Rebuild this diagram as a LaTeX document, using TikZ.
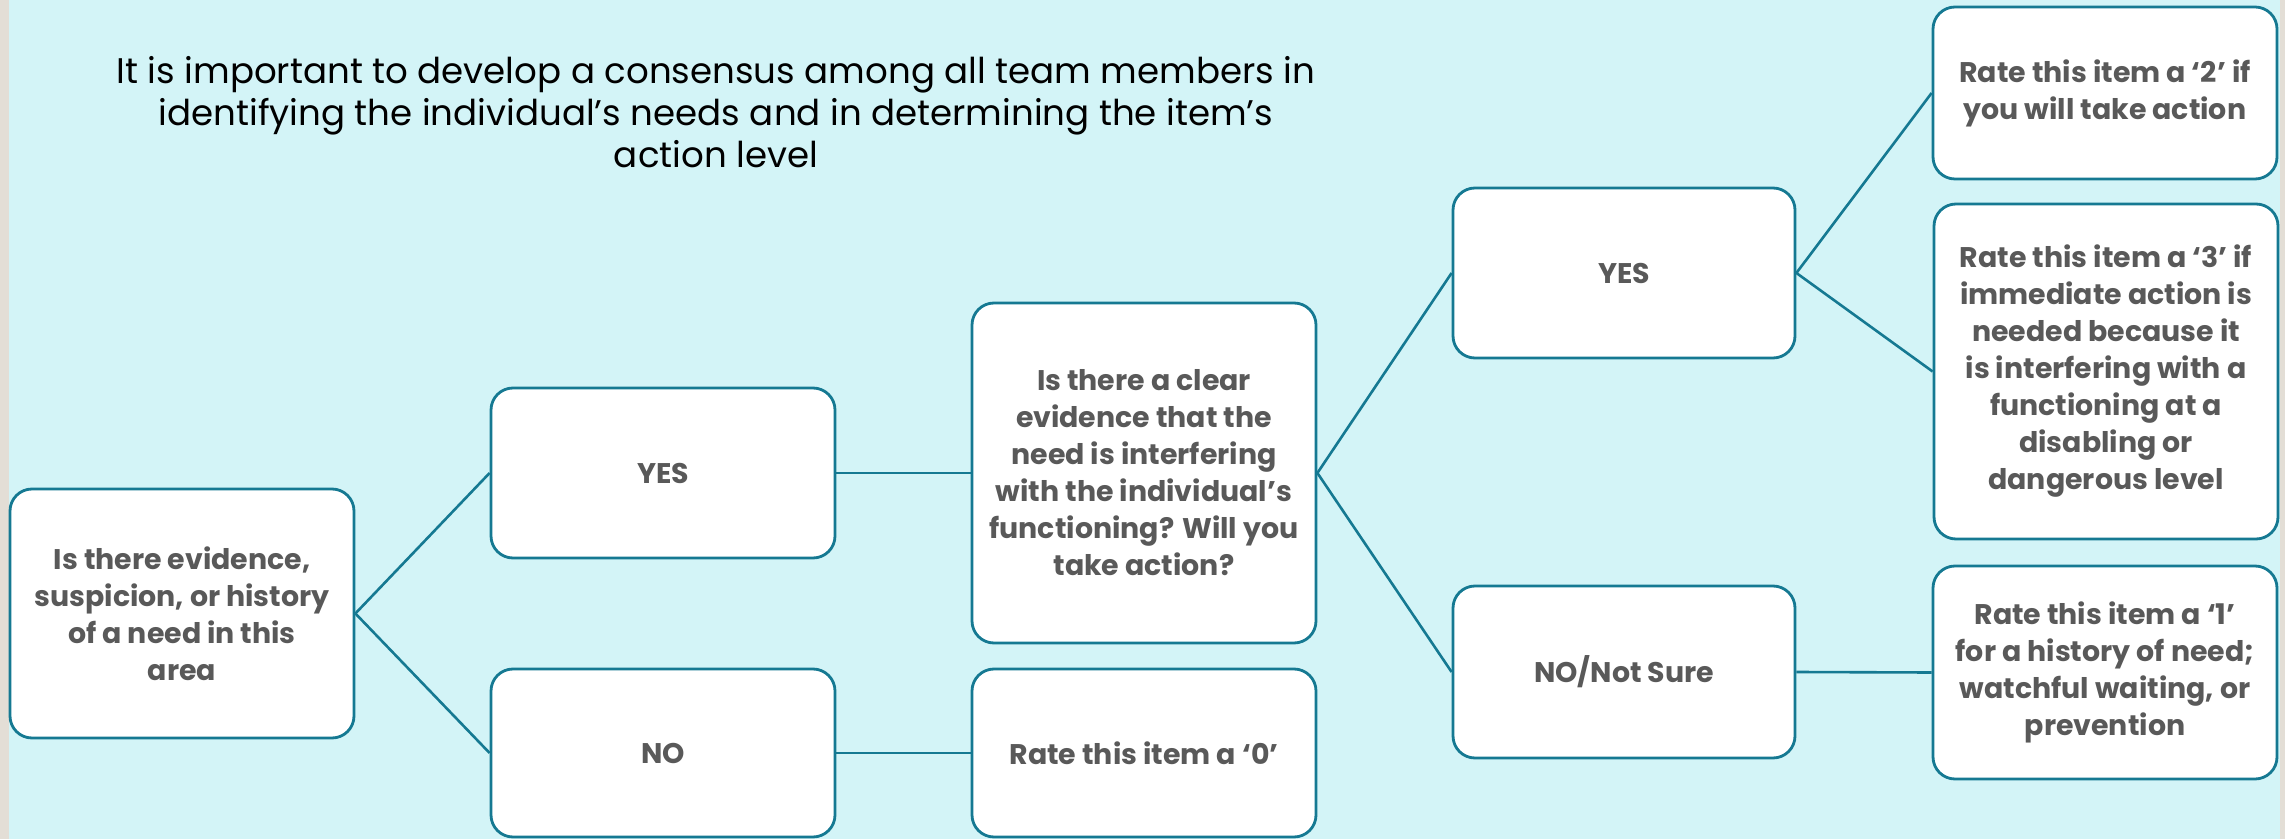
\documentclass[tikz,border=0pt]{standalone}
\usepackage{fontspec}
\setmainfont{Poppins}
\definecolor{bgcol}{RGB}{211,244,247}
\definecolor{stripcol}{RGB}{227,222,214}
\definecolor{edgecol}{RGB}{21,121,146}
\definecolor{txtcol}{RGB}{89,89,89}
\tikzset{
  flowbox/.style={draw=edgecol, line width=1.4pt, fill=white, rounded corners=11pt,
    align=center, text=txtcol, inner sep=2pt,
    font=\fontsize{14.2}{18.5}\selectfont\bfseries},
  link/.style={draw=edgecol, line width=1.3pt},
  introtext/.style={align=center, text=black, font=\fontsize{17.8}{21}\selectfont}
}
\begin{document}
\begin{tikzpicture}[x=0.5pt,y=-0.5pt]
\useasboundingbox (0,0) rectangle (2285,839);
\fill[bgcol] (0,0) rectangle (2285,839);
\fill[stripcol] (0,0) rectangle (9,839);
\fill[stripcol] (2280,0) rectangle (2285,839);

\node[introtext] (intro) at (716,112) {It is important to develop a consensus among all team members in\\ identifying the individual’s needs and in determining the item’s\\ action level};

\node[flowbox, minimum width=172pt, minimum height=124.5pt] (q1) at (182,613.5) {Is there evidence,\\ suspicion, or history\\ of a need in this\\ area};
\node[flowbox, minimum width=172pt, minimum height=85pt] (yes1) at (663,473) {YES};
\node[flowbox, minimum width=172pt, minimum height=84pt] (no1) at (663,753) {NO};
\node[flowbox, minimum width=172pt, minimum height=170pt] (q2) at (1144,473) {Is there a clear\\ evidence that the\\ need is interfering\\ with the individual’s\\ functioning? Will you\\ take action?};
\node[flowbox, minimum width=172pt, minimum height=84pt] (r0) at (1144,753) {Rate this item a ‘0’};
\node[flowbox, minimum width=171pt, minimum height=85pt] (yes2) at (1624,273) {YES};
\node[flowbox, minimum width=171pt, minimum height=86pt] (nons) at (1624,672) {NO/Not Sure};
\node[flowbox, minimum width=172pt, minimum height=86pt] (r2) at (2105,93) {Rate this item a ‘2’ if\\ you will take action};
\node[flowbox, minimum width=172pt, minimum height=167.5pt] (r3) at (2106,371.5) {Rate this item a ‘3’ if\\ immediate action is\\ needed because it\\ is interfering with a\\ functioning at a\\ disabling or\\ dangerous level};
\node[flowbox, minimum width=172pt, minimum height=106.5pt] (r1) at (2105,672.5) {Rate this item a ‘1’\\ for a history of need;\\ watchful waiting, or\\ prevention};

\draw[link] (q1.east) -- (yes1.west);
\draw[link] (q1.east) -- (no1.west);
\draw[link] (yes1.east) -- (q2.west);
\draw[link] (no1.east) -- (r0.west);
\draw[link] (q2.east) -- (yes2.west);
\draw[link] (q2.east) -- (nons.west);
\draw[link] (yes2.east) -- (r2.west);
\draw[link] (yes2.east) -- (r3.west);
\draw[link] (nons.east) -- (r1.west);
\end{tikzpicture}
\end{document}
